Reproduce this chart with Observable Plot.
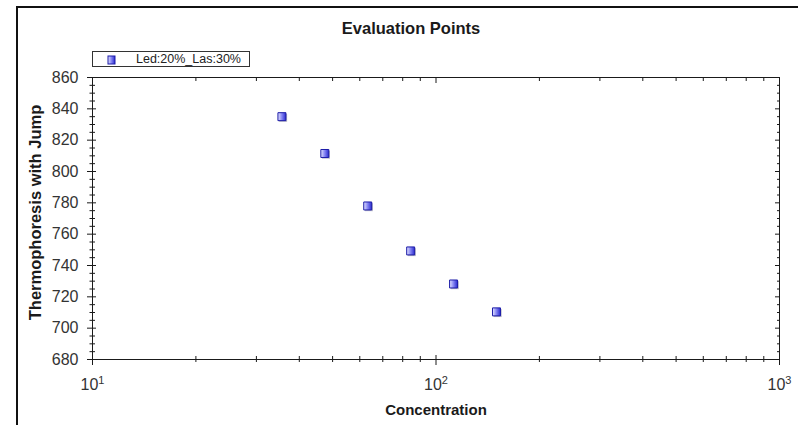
<!DOCTYPE html>
<html>
<head>
<meta charset="utf-8">
<script src="https://cdn.jsdelivr.net/npm/d3@7"></script>
<script src="https://cdn.jsdelivr.net/npm/@observablehq/plot@0.6"></script>
<style>
  html, body { margin: 0; padding: 0; background: #fff; }
  #chart { position: relative; width: 798px; height: 425px; overflow: hidden;
           font-family: "Liberation Sans", Arial, sans-serif; }
  #border { position: absolute; left: 16px; top: 6px; width: 820px; height: 440px;
            border-top: 2px solid #111; border-left: 2px solid #111; pointer-events: none; }
  #legend { position: absolute; left: 92px; top: 51px; width: 158px; height: 16px;
            box-sizing: border-box; border: 1px solid #333; background: #fff;
            font-size: 12.5px; color: #222; line-height: 14px; }
  #legend svg { position: absolute; left: 14px; top: 3px; }
  #legend span { position: absolute; left: 43px; top: 0px; white-space: nowrap; }
</style>
</head>
<body>
<div id="chart">
  <div id="border"></div>
</div>
<script>
// Evaluation points: concentration vs. thermophoresis signal
const concentration = [35.6, 47.46, 63.28, 84.38, 112.5, 150];
const thermophoresis = [835, 811.5, 778, 749.3, 728.2, 710.4];
const seriesName = "Led:20%_Las:30%";

const titleText = "Evaluation Points";
const xLabel = "Concentration";
const yLabel = "Thermophoresis with Jump";

const xMajor = [10, 100, 1000];
const xTickExponent = ["1", "2", "3"];
const xMinor = [20, 30, 40, 50, 60, 70, 80, 90, 200, 300, 400, 500, 600, 700, 800, 900];
const yMajor = [680, 700, 720, 740, 760, 780, 800, 820, 840, 860];
const yMinor = d3.range(680, 861, 5).filter(v => v % 20 !== 0);

const points = concentration.map((c, i) => ({c, v: thermophoresis[i]}));
const ink = "#1a1a1a";

const chart = Plot.plot({
  width: 798,
  height: 425,
  marginLeft: 92,
  marginRight: 19,
  marginTop: 77,
  marginBottom: 66,
  style: {fontFamily: '"Liberation Sans", Arial, sans-serif', color: ink, background: "transparent"},
  x: {type: "log", domain: [10, 1000]},
  y: {domain: [680, 860]},
  marks: [
    Plot.frame({stroke: ink, strokeWidth: 1}),

    // left axis: labelled majors crossing the line, minors every 5
    Plot.axisY(yMajor, {anchor: "left", tickSize: 5, tickPadding: 9, fontSize: 16, label: null, fill: "#333"}),
    Plot.axisY(yMajor, {anchor: "left", tickSize: -4, text: null, label: null}),
    Plot.axisY(yMinor, {anchor: "left", tickSize: 2.5, text: null, label: null}),
    Plot.axisY(yMinor, {anchor: "left", tickSize: -3, text: null, label: null}),

    // right axis: inward ticks
    Plot.axisY(yMajor, {anchor: "right", tickSize: -5, text: null, label: null}),
    Plot.axisY(yMinor, {anchor: "right", tickSize: -3, text: null, label: null}),

    // bottom axis: decades labelled as powers of ten (exponent raised below)
    Plot.axisX(xMajor, {anchor: "bottom", tickSize: 6, tickPadding: 13, fontSize: 16, label: null, fill: "#333",
                        tickFormat: d => "10" + xTickExponent[xMajor.indexOf(d)]}),
    Plot.axisX(xMajor, {anchor: "bottom", tickSize: -4, text: null, label: null}),
    Plot.axisX(xMinor, {anchor: "bottom", tickSize: 3, text: null, label: null}),
    Plot.axisX(xMinor, {anchor: "bottom", tickSize: -3, text: null, label: null}),

    // top axis: inward ticks
    Plot.axisX(xMajor, {anchor: "top", tickSize: -5, text: null, label: null}),
    Plot.axisX(xMinor, {anchor: "top", tickSize: -3, text: null, label: null}),

    // titles
    Plot.text([titleText], {frameAnchor: "top", lineAnchor: "middle", dx: -25, dy: -49,
                            fontSize: 16.5, fontWeight: "bold", fill: ink}),
    Plot.text([xLabel], {frameAnchor: "bottom", lineAnchor: "middle", dy: 51,
                         fontSize: 15, fontWeight: "bold", fill: ink}),
    Plot.text([yLabel], {frameAnchor: "left", textAnchor: "middle", lineAnchor: "middle", dx: -57, dy: -6, rotate: -90,
                         fontSize: 16.5, fontWeight: "bold", fill: ink}),

    // points: drop shadow, then shaded squares
    Plot.dot(points, {x: "c", y: "v", symbol: "square", r: 4.5, dx: 1.2, dy: 1.2, fill: "#8a8aa0", fillOpacity: 0.6}),
    Plot.dot(points, {x: "c", y: "v", symbol: "square", r: 4.5, fill: "url(#pointFill)", stroke: "#1c1ca8", strokeWidth: 1})
  ]
});

// shading used by the point squares
d3.select(chart).insert("defs", ":first-child").html(`
  <linearGradient id="pointFill" x1="0" x2="1" y1="0" y2="0">
    <stop offset="0" stop-color="#e4e4ff"/>
    <stop offset="0.45" stop-color="#8c8cf4"/>
    <stop offset="1" stop-color="#2a2ad0"/>
  </linearGradient>`);

// set the decade exponents as raised superscripts
d3.select(chart).selectAll('g[aria-label="x-axis tick label"] text').each(function () {
  const label = this.textContent;
  const base = label.slice(0, 2), exp = label.slice(2);
  const t = d3.select(this).text("");
  t.append("tspan").text(base);
  t.append("tspan").attr("dy", "-0.55em").attr("font-size", 11).text(exp);
});

const root = document.getElementById("chart");
root.insertBefore(chart, root.firstChild);

// legend box
const legend = document.createElement("div");
legend.id = "legend";
legend.innerHTML = `<svg width="10" height="10" viewBox="0 0 10 10">
  <defs><linearGradient id="legendFill" x1="0" x2="1"><stop offset="0" stop-color="#e4e4ff"/><stop offset="0.45" stop-color="#8c8cf4"/><stop offset="1" stop-color="#2a2ad0"/></linearGradient></defs>
  <rect x="1" y="1" width="7" height="8" fill="url(#legendFill)" stroke="#1c1ca8"/></svg><span></span>`;
legend.querySelector("span").textContent = seriesName;
root.appendChild(legend);
</script>
</body>
</html>
